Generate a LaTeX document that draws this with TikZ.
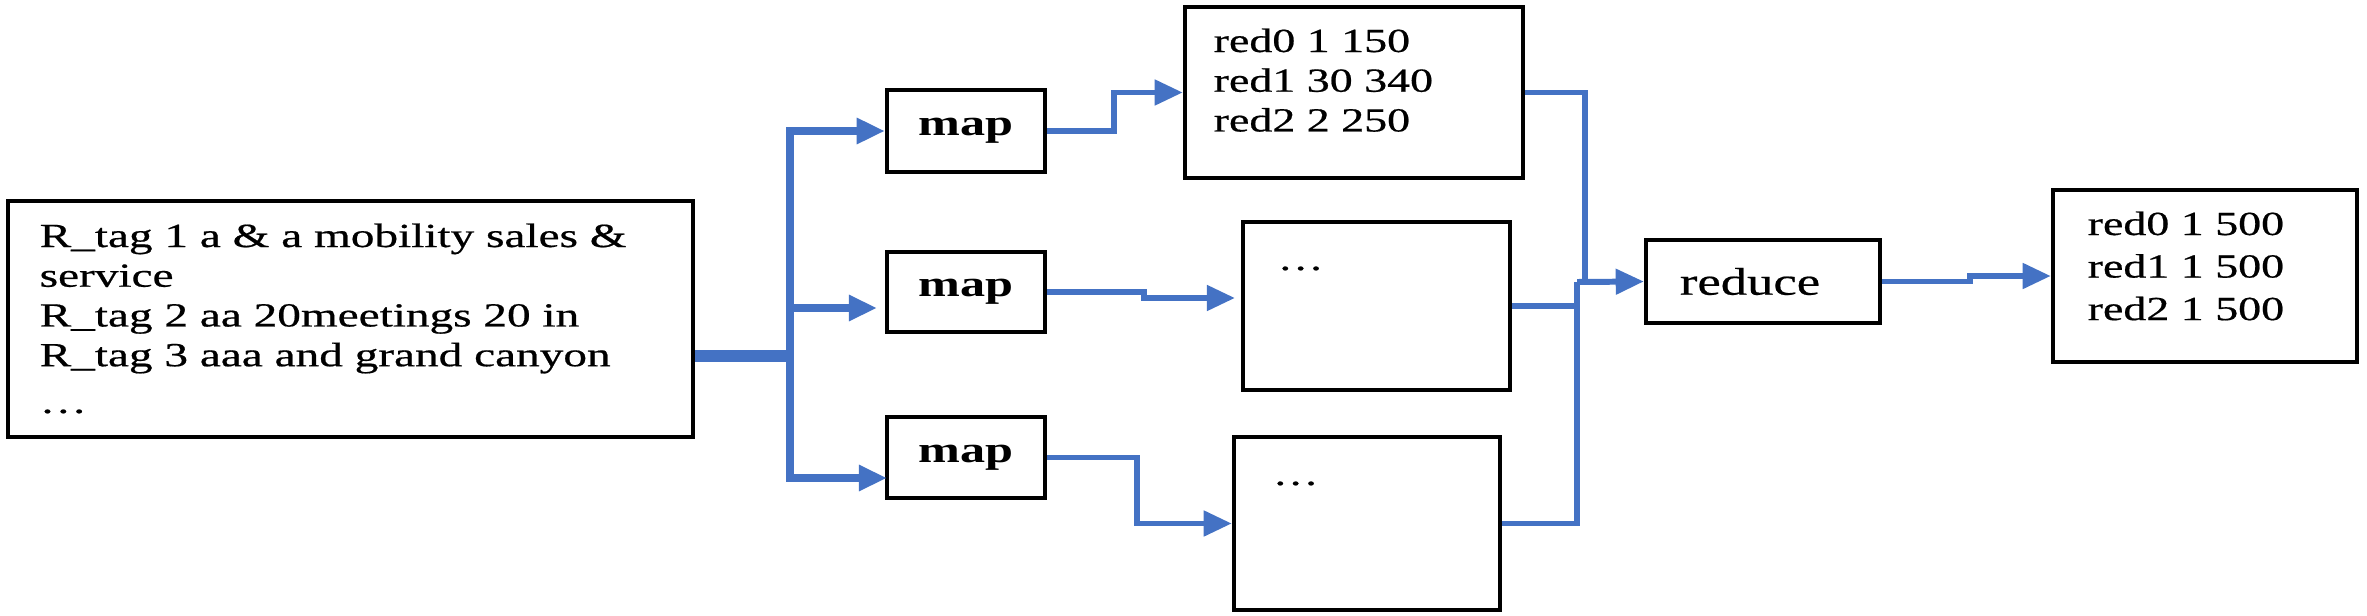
\documentclass[tikz,border=0pt]{standalone}
\usepackage{fontspec}
\setmainfont{Liberation Serif}
\newfontfamily\heavy{Liberation Serif}[FakeBold=0.5]
\usetikzlibrary{arrows.meta}
\definecolor{flowblue}{RGB}{68,114,196}
\newcommand{\sx}[1]{\scalebox{1.36}[1]{#1}}
\newcommand{\sxa}[1]{\scalebox{1.40}[1]{#1}}
\tikzset{
  box/.style={draw=black, line width=1.2pt, inner sep=0pt},
  flow/.style={draw=flowblue, line width=1.7pt},
  trunk/.style={draw=flowblue, line width=2.1pt},
  tip/.style={-{Triangle[length=8pt,width=7pt]}},
  txt/.style={inner sep=0pt, anchor=base west, font=\heavy\fontsize{9.6}{11.3}\selectfont},
  maptxt/.style={font=\fontsize{10.5}{12}\selectfont\bfseries},
}
\begin{document}
\begin{tikzpicture}[x=0.01cm, y=-0.01cm]
\fill[white] (0,0) rectangle (2367,615);
\useasboundingbox (0,0) rectangle (2367,615);

% boxes
\node[box, minimum width=6.85cm, minimum height=2.36cm] (in) at (350.5,319) {};
\node[box, maptxt, minimum width=1.58cm, minimum height=0.82cm] (m1) at (966,131) {\sx{map}};
\node[box, maptxt, minimum width=1.58cm, minimum height=0.80cm] (m2) at (966,292) {\sx{map}};
\node[box, maptxt, minimum width=1.58cm, minimum height=0.81cm] (m3) at (966,457.5) {\sx{map}};
\node[box, minimum width=3.38cm, minimum height=1.71cm] (r1) at (1354,92.5) {};
\node[box, minimum width=2.67cm, minimum height=1.68cm] (r2) at (1376.5,306) {};
\node[box, minimum width=2.66cm, minimum height=1.73cm] (r3) at (1367,523.5) {};
\node[box, minimum width=2.34cm, minimum height=0.83cm, font=\heavy\fontsize{11}{13}\selectfont] (red) at (1763,281.5) {\sx{reduce}\hspace*{0.26cm}};
\node[box, minimum width=3.04cm, minimum height=1.72cm] (out) at (2205,276) {};

% texts
\node[txt] (intext) at (39,247) {\sxa{\begin{tabular}[t]{@{}l@{}}R\_tag 1 a \& a mobility sales \&\\ service\\ R\_tag 2 aa 20meetings 20 in\\ R\_tag 3 aaa and grand canyon\\[2pt] …\end{tabular}}};
\node[txt] (r1text) at (1213,52) {\sx{\begin{tabular}[t]{@{}l@{}}red0 1 150\\ red1 30 340\\ red2 2 250\end{tabular}}};
\node[txt] (r2text) at (1277,270) {\sx{…}};
\node[txt] (r3text) at (1272,485) {\sx{…}};
\node[txt, font=\heavy\fontsize{9.6}{12.1}\selectfont] (outtext) at (2087,235) {\sx{\begin{tabular}[t]{@{}l@{}}red0 1 500\\ red1 1 500\\ red2 1 500\end{tabular}}};

% split from input
\coordinate (sp) at (790,356);
\coordinate (m2in) at (877,308);
\coordinate (m3in) at (887,478);
\draw[flow, line width=3.6pt] (in.east |- sp) -- (sp);
\draw[trunk, tip] (sp) |- (m1.west);
\draw[trunk, tip] (sp) |- (m2in);
\draw[trunk, tip] (sp) |- (m3in);

% map outputs
\coordinate (r2in) at (1235,298);
\draw[flow, tip] (m1.east) -- ++(67,0) |- (r1.west);
\draw[flow, tip] (m2.east) -- ++(97,0) |- (r2in);
\draw[flow, tip] (m3.east) -- ++(90,0) |- (r3.west);

% merge into reduce
\coordinate (j1) at (1585,282);
\coordinate (j2) at (1577,282);
\draw[flow] (r1.east) -| (j1);
\draw[flow] (r2.east) -| (j2);
\draw[flow] (r3.east) -| (j2);
\draw[flow, tip] (j2) -- (red.west);

% reduce output
\draw[flow, tip] (red.east) -- ++(88,0) |- (out.west);
\end{tikzpicture}
\end{document}
